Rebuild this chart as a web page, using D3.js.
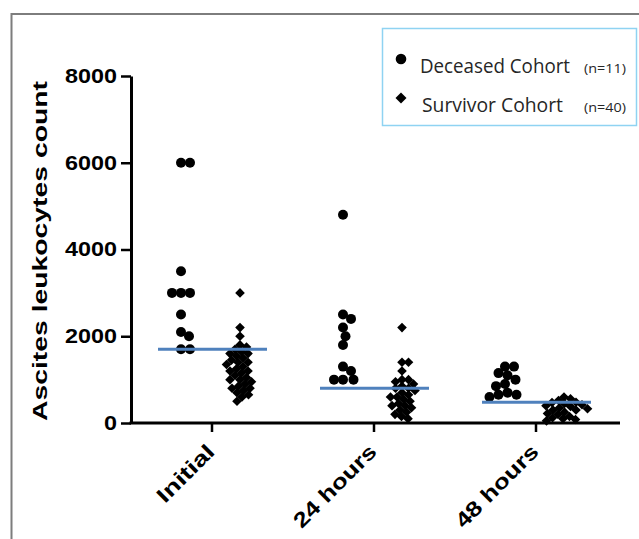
<!DOCTYPE html>
<html>
<head>
<meta charset="utf-8">
<script src="https://cdn.jsdelivr.net/npm/d3@7"></script>
<style>
  body { margin: 0; background: #fff; }
  svg { display: block; }
</style>
</head>
<body>
<svg id="chart" width="639" height="539"></svg>
<script>
const categories = ["Initial", "24 hours", "48 hours"];
const yTicks = [0, 2000, 4000, 6000, 8000];

// deceased cohort, one array per time point
const deceased = [
  [6000, 6000, 3500, 3000, 3000, 3000, 2500, 2100, 2000, 1700, 1700],
  [4800, 2500, 2400, 2200, 2000, 1800, 1300, 1200, 1000, 1000, 1000],
  [1300, 1300, 1150, 1100, 1000, 900, 850, 700, 650, 650, 600]
];

// survivor cohort
const survivors = [
  [3000, 2200, 2000, 1800, 1750, 1700, 1650, 1600, 1600, 1550, 1500, 1450, 1400, 1400,
   1350, 1300, 1250, 1200, 1200, 1150, 1100, 1050, 1000, 1000, 950, 900, 850, 800, 800,
   750, 700, 650, 600, 500],
  [2200, 1400, 1400, 1200, 1000, 1000, 950, 900, 850, 800, 800, 750, 700, 650, 600, 600,
   550, 500, 450, 400, 400, 350, 300, 250, 200, 150, 100],
  [600, 560, 520, 480, 470, 450, 420, 400, 380, 350, 330, 300, 300, 250, 220, 200, 150,
   120, 100, 80, 50]
];

const medians = [1700, 800, 480];

const legendItems = [
  { label: "Deceased Cohort", n: "(n=11)" },
  { label: "Survivor Cohort", n: "(n=40)" }
];

const svg = d3.select("#chart");

// outer frame of the figure
svg.append("path")
  .attr("d", "M11.5,539V14H639")
  .attr("fill", "none")
  .attr("stroke", "#7d7d7d")
  .attr("stroke-width", 2);

const x = d3.scaleBand().domain(categories).range([131, 617]);
const y = d3.scaleLinear().domain([0, 8000]).range([423, 76]);

// y axis
const yAxis = svg.append("g")
  .attr("transform", "translate(131,0)")
  .call(d3.axisLeft(y).tickValues(yTicks).tickSize(10).tickSizeOuter(0).tickFormat(d3.format("d")));
yAxis.select(".domain").attr("stroke-width", 3);
yAxis.selectAll(".tick line").attr("stroke-width", 2.5);
yAxis.selectAll(".tick text")
  .attr("x", -14)
  .attr("font-family", "Liberation Sans, Arial, sans-serif")
  .attr("font-weight", "bold")
  .attr("font-size", 20)
  .attr("fill", "#000")
  .attr("textLength", d => String(d).length * 13)
  .attr("lengthAdjust", "spacingAndGlyphs");

// x axis
const xAxis = svg.append("g")
  .attr("transform", "translate(0,423)")
  .call(d3.axisBottom(x).tickSize(9).tickSizeOuter(0));
xAxis.select(".domain").attr("d", "M129.5,0H620").attr("stroke-width", 3);
xAxis.selectAll(".tick line").attr("stroke-width", 2.5);
xAxis.selectAll(".tick text").remove();

const xLabelLen = { "Initial": 72, "24 hours": 108, "48 hours": 108 };
svg.append("g")
  .selectAll("text")
  .data(categories)
  .enter()
  .append("text")
  .attr("transform", d => "translate(" + (x(d) + x.bandwidth() / 2 + 4) + ",453) rotate(-45)")
  .attr("text-anchor", "end")
  .attr("font-family", "Liberation Sans, Arial, sans-serif")
  .attr("font-weight", "bold")
  .attr("font-size", 21)
  .attr("textLength", d => xLabelLen[d])
  .attr("lengthAdjust", "spacingAndGlyphs")
  .text(d => d);

// y axis title
svg.append("text")
  .attr("transform", "translate(47,251) rotate(-90)")
  .attr("text-anchor", "middle")
  .attr("font-family", "Liberation Sans, Arial, sans-serif")
  .attr("font-weight", "bold")
  .attr("font-size", 21)
  .attr("textLength", 340)
  .attr("lengthAdjust", "spacingAndGlyphs")
  .text("Ascites leukocytes count");

// simple swarm layout: each point goes as close to the column centre as it can
function swarm(vals, cx, d) {
  const placed = [];
  vals.slice().sort((a, b) => b - a).forEach(v => {
    const py = y(v);
    for (let k = 0; k < 400; k++) {
      const o = (k % 2 ? (k + 1) / 2 : -k / 2) * 0.5;
      const ok = placed.every(p => (p.x - (cx + o)) ** 2 + (p.y - py) ** 2 >= d * d);
      if (ok) {
        placed.push({ x: cx + o, y: py, v: v });
        break;
      }
    }
  });
  return placed;
}

const diamond = "M0,-4.8L4.8,0L0,4.8L-4.8,0Z";

categories.forEach((c, i) => {
  const cx = x(c) + x.bandwidth() / 2;

  svg.append("g")
    .selectAll("circle")
    .data(swarm(deceased[i], cx - 31, 9))
    .enter()
    .append("circle")
    .attr("cx", d => d.x)
    .attr("cy", d => d.y)
    .attr("r", 5)
    .attr("fill", "#000");

  svg.append("g")
    .selectAll("path")
    .data(swarm(survivors[i], cx + 28, 6.5))
    .enter()
    .append("path")
    .attr("d", diamond)
    .attr("transform", d => "translate(" + d.x + "," + d.y + ")")
    .attr("fill", "#000");
});

// median lines
svg.append("g")
  .selectAll("line")
  .data(medians)
  .enter()
  .append("line")
  .attr("x1", (d, i) => x(categories[i]) + x.bandwidth() / 2 - 54)
  .attr("x2", (d, i) => x(categories[i]) + x.bandwidth() / 2 + 55)
  .attr("y1", d => y(d))
  .attr("y2", d => y(d))
  .attr("stroke", "#4f81bd")
  .attr("stroke-width", 3);

// legend
const legend = svg.append("g");
legend.append("rect")
  .attr("x", 382.5)
  .attr("y", 28.5)
  .attr("width", 254)
  .attr("height", 97)
  .attr("fill", "#fff")
  .attr("stroke", "#8fd3f2")
  .attr("stroke-width", 1.5);

legend.append("circle").attr("cx", 401).attr("cy", 59).attr("r", 5.3).attr("fill", "#000");
legend.append("path").attr("d", "M0,-5.5L5.5,0L0,5.5L-5.5,0Z").attr("transform", "translate(401,98)").attr("fill", "#000");

const labelLen = [150, 141];
legend.selectAll("text.lab")
  .data(legendItems)
  .enter()
  .append("text")
  .attr("class", "lab")
  .attr("x", (d, i) => 420 + i * 2)
  .attr("y", (d, i) => 73 + i * 39)
  .attr("font-family", "Open Sans, Noto Sans, sans-serif")
  .attr("font-size", 19.5)
  .attr("fill", "#262626")
  .attr("textLength", (d, i) => labelLen[i])
  .attr("lengthAdjust", "spacingAndGlyphs")
  .text(d => d.label);

legend.selectAll("text.n")
  .data(legendItems)
  .enter()
  .append("text")
  .attr("class", "n")
  .attr("x", 584)
  .attr("y", (d, i) => 73 + i * 39)
  .attr("font-family", "Open Sans, Noto Sans, sans-serif")
  .attr("font-size", 13.5)
  .attr("fill", "#262626")
  .attr("textLength", 42)
  .attr("lengthAdjust", "spacingAndGlyphs")
  .text(d => d.n);
</script>
</body>
</html>
